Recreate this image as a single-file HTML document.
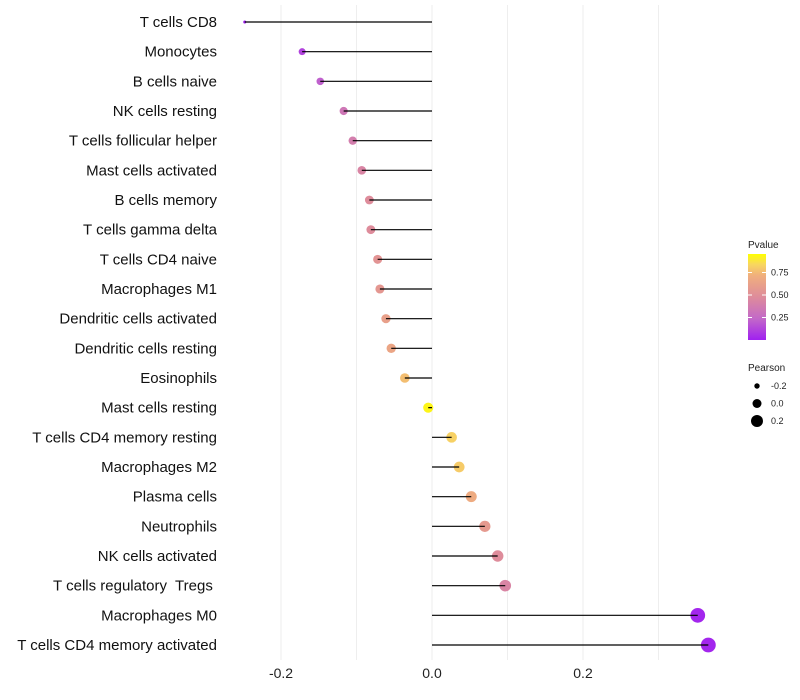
<!DOCTYPE html>
<html><head><meta charset="utf-8"><style>
body{margin:0;background:#fff;}
svg{display:block;font-family:"Liberation Sans",sans-serif;}
text{white-space:pre;}
</style></head><body>
<svg id="chart" width="800" height="700"></svg>
<script>
const categories=["T cells CD8","Monocytes","B cells naive","NK cells resting","T cells follicular helper","Mast cells activated","B cells memory","T cells gamma delta","T cells CD4 naive","Macrophages M1","Dendritic cells activated","Dendritic cells resting","Eosinophils","Mast cells resting","T cells CD4 memory resting","Macrophages M2","Plasma cells","Neutrophils","NK cells activated","T cells regulatory  Tregs ","Macrophages M0","T cells CD4 memory activated"];
const pearson=[-0.248,-0.172,-0.148,-0.117,-0.105,-0.093,-0.083,-0.081,-0.072,-0.069,-0.061,-0.054,-0.036,-0.005,0.026,0.036,0.052,0.070,0.087,0.097,0.352,0.366];
const pvalues=[0.0,0.12,0.22,0.35,0.4,0.45,0.5,0.5,0.56,0.58,0.64,0.68,0.8,0.97,0.86,0.84,0.72,0.6,0.5,0.45,0.02,0.02];
const xTicks=[-0.2,0.0,0.2];
const xTickLabels=["-0.2","0.0","0.2"];
const xGrid=[-0.2,-0.1,0.0,0.1,0.2,0.3];
const pTicks=[0.25,0.5,0.75];
const sizeLegend=[-0.2,0.0,0.2];

const NS="http://www.w3.org/2000/svg";
const svg=document.getElementById('chart');
function mk(t,a,p){const e=document.createElementNS(NS,t);for(const k in a)e.setAttribute(k,a[k]);(p||svg).appendChild(e);return e;}
const xS=v=>432+v*755;
const yS=i=>22+i*(623/21);
const rS=v=>Math.sqrt(Math.max(2.4,26+80*v-(v<-0.2?(-0.2-v)*300:0)));
function lerp(a,b,t){return a+(b-a)*t;}
const cStops=[[0,[160,32,240]],[0.25,[195,105,200]],[0.5,[222,140,155]],[0.75,[240,175,125]],[0.88,[248,215,95]],[1,[255,255,0]]];
function col(p){
  let i=0;while(i<cStops.length-2&&p>cStops[i+1][0])i++;
  const a=cStops[i],b=cStops[i+1];const t=Math.min(1,Math.max(0,(p-a[0])/(b[0]-a[0])));
  const c=a[1].map((v,k)=>Math.round(lerp(v,b[1][k],t)));return `rgb(${c})`;
}
xGrid.forEach(v=>{const g=mk('line',{x1:xS(v),x2:xS(v),y1:5,y2:660,stroke:'#eeeeee','stroke-width':1});

});
xTicks.forEach((v,i)=>{const t=mk('text',{x:xS(v),y:678,'text-anchor':'middle','font-size':14,fill:'#222'});t.textContent=xTickLabels[i];

});
categories.forEach((c,i)=>{
  const y=yS(i);
  const t=mk('text',{x:217,y:y+5,'text-anchor':'end','font-size':15,fill:'#111'});t.textContent=c;
  
  
  const pt=mk('circle',{cx:xS(pearson[i]),cy:y,r:rS(pearson[i]),fill:col(pvalues[i])});
  
  
  const ln=mk('line',{x1:xS(0),x2:xS(pearson[i]),y1:y,y2:y,stroke:'#000','stroke-width':1.2});
  
  
});
const lt=mk('text',{x:748,y:248,'font-size':10,fill:'#222'});lt.textContent='Pvalue';


const defs=mk('defs',{});const gr=mk('linearGradient',{id:'pg',x1:0,y1:1,x2:0,y2:0},defs);
[0,0.25,0.5,0.75,0.88,1].forEach(s=>mk('stop',{offset:s,'stop-color':col(s)},gr));
const bar=mk('rect',{x:748,y:254,width:18,height:86,fill:'url(#pg)'});


const pY=p=>340-p*90;
pTicks.forEach(p=>{mk('line',{x1:748,x2:752,y1:pY(p),y2:pY(p),stroke:'#fff'});mk('line',{x1:762,x2:766,y1:pY(p),y2:pY(p),stroke:'#fff'});
const t=mk('text',{x:771,y:pY(p)+3,'font-size':9,fill:'#222'});t.textContent=p.toFixed(2);

});
const st=mk('text',{x:748,y:371,'font-size':10,fill:'#222'});st.textContent='Pearson';


const legR=[2.7,4.5,6];
sizeLegend.forEach((v,i)=>{const y=386+i*17.5;const c=mk('circle',{cx:757,cy:y,r:legR[i],fill:'#000'});


const t=mk('text',{x:771,y:y+3,'font-size':9,fill:'#222'});t.textContent=v.toFixed(1);

});
</script>
</body></html>
